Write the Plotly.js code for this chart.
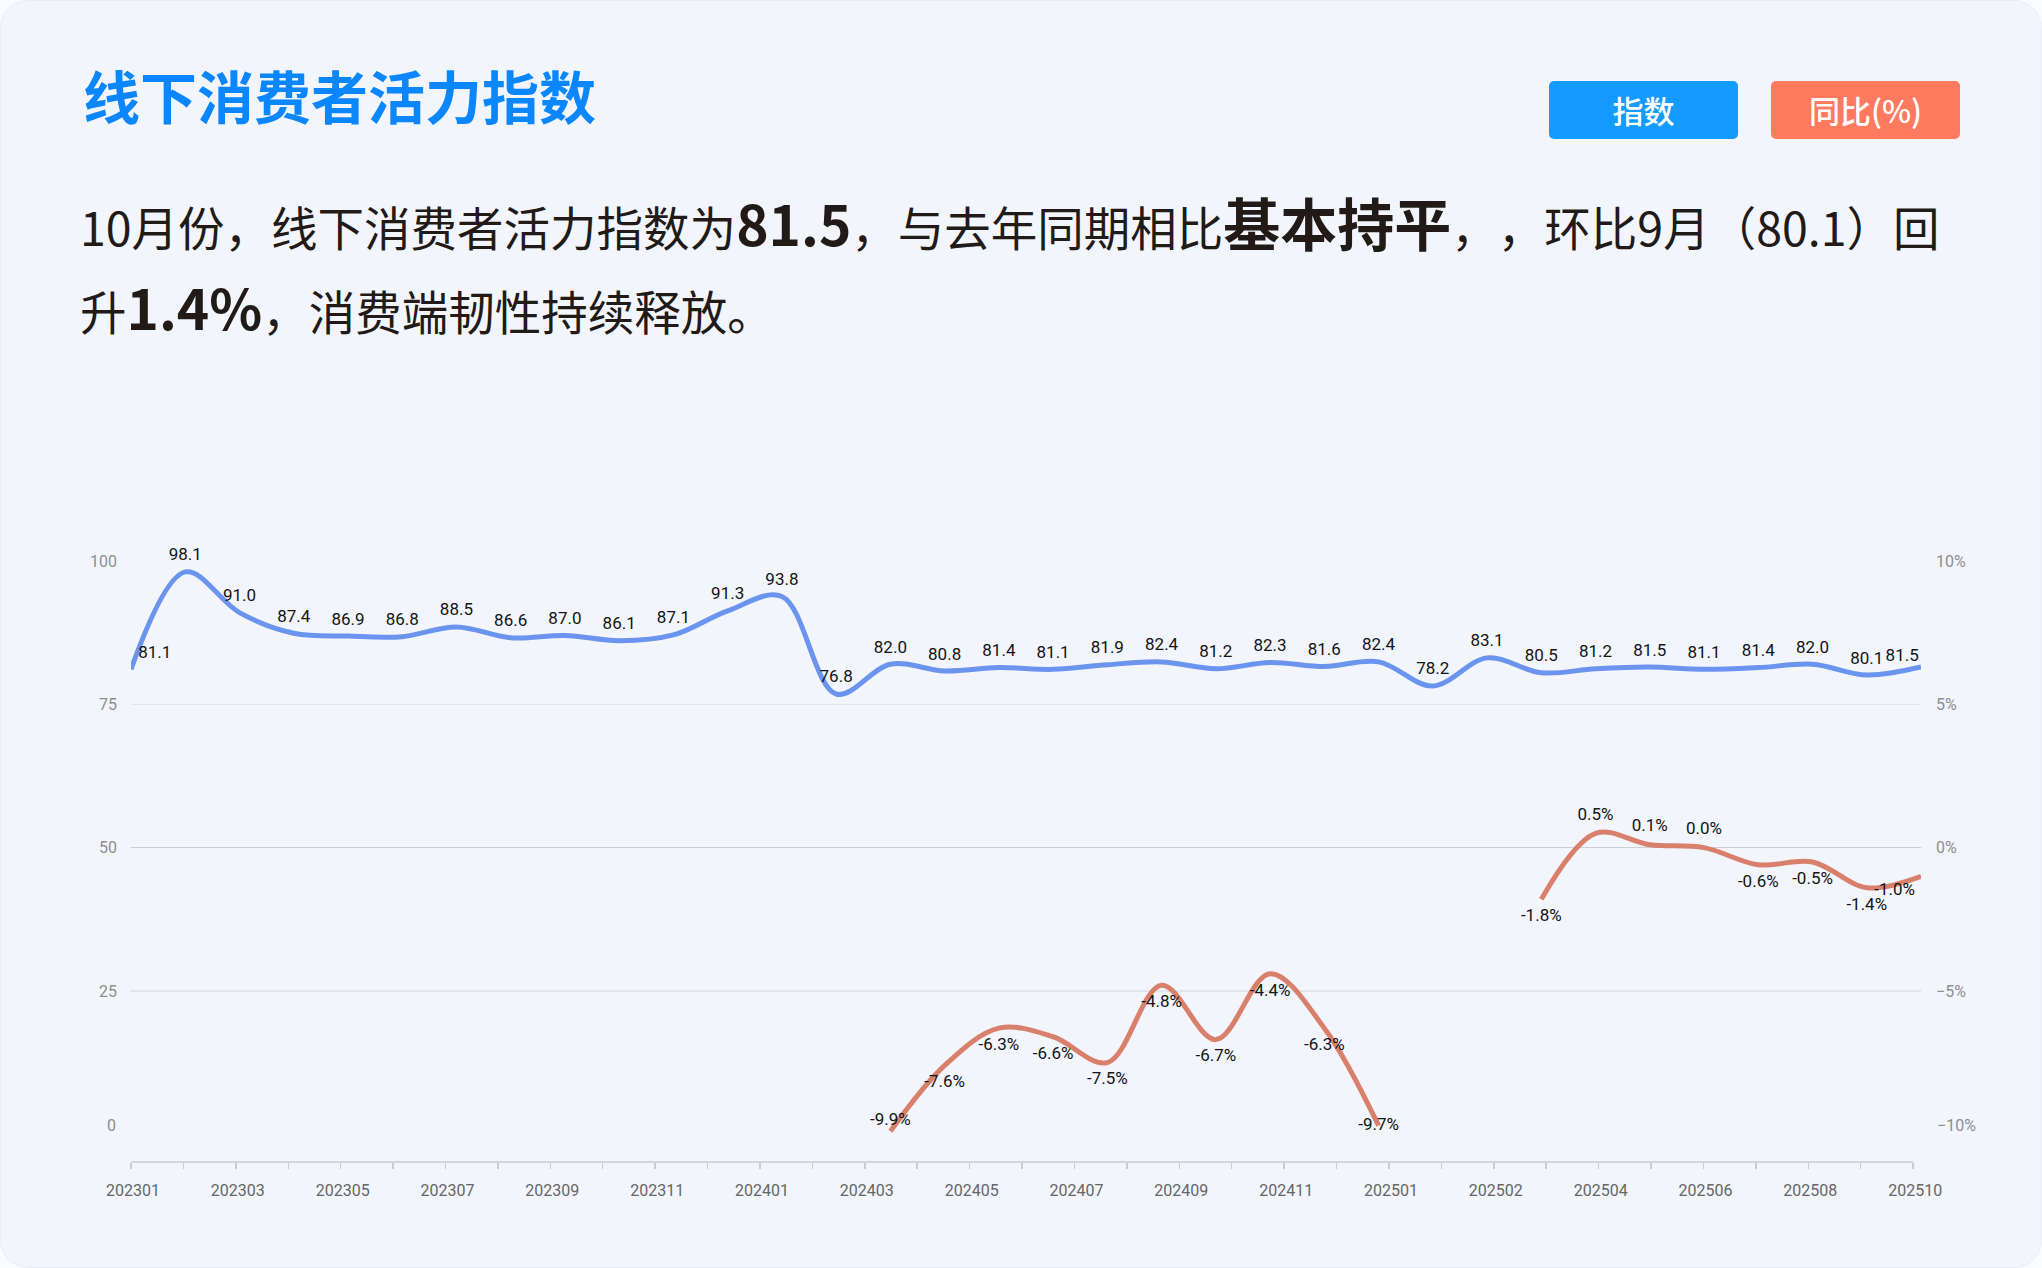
<!DOCTYPE html>
<html>
<head>
<meta charset="utf-8">
<script src="https://cdn.plot.ly/plotly-3.0.1.min.js"></script>
<style>
html,body{margin:0;padding:0;width:2042px;height:1268px;overflow:hidden;background:#FAFBFE;}
#card{position:absolute;left:0;top:0;width:2040px;height:1266px;border:1px solid #E9EDF5;border-radius:28px;background:#F2F5FC;}
#title{position:absolute;left:83px;top:66px;font-family:'Noto Sans CJK SC';font-weight:700;font-size:57px;line-height:1;color:#0A86FF;white-space:nowrap;text-spacing-trim:space-all;}
#sub{position:absolute;left:80px;top:184px;font-family:'Noto Sans CJK SC';font-weight:400;font-size:46.5px;line-height:84px;color:#211A17;white-space:nowrap;text-spacing-trim:space-all;}
#sub b{font-weight:700;font-size:57px;line-height:1;}
#sub b.num{font-size:55px;}
.btn{position:absolute;top:81px;width:189px;height:58px;border-radius:5px;color:#fff;font-family:'Noto Sans CJK SC';font-size:31px;font-weight:500;line-height:58px;text-align:center;}
#chart{position:absolute;left:0;top:0;width:2042px;height:1268px;}
</style>
</head>
<body>
<div id="card"></div>
<div id="title">线下消费者活力指数</div>
<div id="sub">10月份，线下消费者活力指数为<b class="num">81.5</b>，与去年同期相比<b>基本持平</b>，，环比9月（80.1）回<br>升<b class="num">1.4%</b>，消费端韧性持续释放。</div>
<div class="btn" style="left:1549px;background:#139BFF;">指数</div>
<div class="btn" style="left:1771px;background:#FF7A5F;">同比(%)</div>
<div id="chart"></div>
<script>
// ---- data ----
const months = ['202301','202302','202303','202304','202305','202306','202307','202308','202309','202310','202311','202312',
  '202401','202402','202403','202404','202405','202406','202407','202408','202409','202410','202411','202412',
  '202501','202502','202503','202504','202505','202506','202507','202508','202509','202510'];
const indexValues = [81.1,98.1,91.0,87.4,86.9,86.8,88.5,86.6,87.0,86.1,87.1,91.3,
  93.8,76.8,82.0,80.8,81.4,81.1,81.9,82.4,81.2,82.3,81.6,82.4,
  78.2,83.1,80.5,81.2,81.5,81.1,81.4,82.0,80.1,81.5];
const yoyValues = [null,null,null,null,null,null,null,null,null,null,null,null,
  null,null,-9.9,-7.6,-6.3,-6.6,-7.5,-4.8,-6.7,-4.4,-6.3,-9.7,
  null,null,-1.8,0.5,0.1,0.0,-0.6,-0.5,-1.4,-1.0];
const axisLabels = ['202301','202303','202305','202307','202309','202311','202401','202403','202405',
  '202407','202409','202411','202501','202502','202504','202506','202508','202510'];
const leftTicks = [25,50,75,100];
const rightTicks = [-5,0,5,10];

// ---- label placement ----
const blueTextPos = indexValues.map((v,i)=> i===0 ? 'top right' : (i===indexValues.length-1 ? 'top left' : 'top center'));
const blueMarkerSize = indexValues.map((v,i)=> i===indexValues.length-1 ? 2 : 10);
const redTextPos = yoyValues.map((v,i)=>{
  if (v===null) return 'top center';
  if (i===yoyValues.length-1) return 'bottom left';
  if (v <= -9.8) return 'top center';
  if (v <= -9.5) return 'middle center';
  return v >= 0 ? 'top center' : 'bottom center';
});
const redMarkerSize = yoyValues.map((v,i) => (v!==null && v <= -9.5) ? 1 : (i===yoyValues.length-1 ? 8 : 13));

const lblFont = {family:'Roboto, "Noto Sans", sans-serif', size:17, color:'#141414'};
const tickFont = {family:'Roboto, "Noto Sans", sans-serif', size:16, color:'#8E8E8E'};

const traces = [
  {x:months, y:indexValues, xaxis:'x2', yaxis:'y', type:'scatter', mode:'lines+markers+text',
   line:{color:'#6B94EE', width:5, shape:'spline', smoothing:1},
   marker:{size:blueMarkerSize, color:'#6B94EE', opacity:0},
   text:indexValues.map(v=>v.toFixed(1)), textposition:blueTextPos, textfont:lblFont, cliponaxis:false, hoverinfo:'skip'},
  {x:months, y:yoyValues, xaxis:'x2', yaxis:'y2', type:'scatter', mode:'lines+markers+text',
   line:{color:'#D9806C', width:5, shape:'spline', smoothing:1}, connectgaps:false,
   marker:{size:redMarkerSize, color:'#D9806C', opacity:0},
   text:yoyValues.map(v=> v===null ? '' : v.toFixed(1)+'%'), textposition:redTextPos, textfont:lblFont, cliponaxis:false, hoverinfo:'skip'}
];

const layout = {
  width:2042, height:1268,
  margin:{l:131, r:121, t:561, b:106, pad:0},
  paper_bgcolor:'rgba(0,0,0,0)', plot_bgcolor:'rgba(0,0,0,0)',
  showlegend:false, hovermode:false,
  xaxis:{type:'linear', range:[0,34.15], tickmode:'array',
    tickvals:axisLabels.map((_,i)=>i*2), ticktext:axisLabels,
    ticks:'outside', ticklen:6, tickwidth:1.5, tickcolor:'#C9CBD0',
    minor:{tickmode:'linear', tick0:0, dtick:1, ticks:'outside', ticklen:6, tickwidth:1.5, tickcolor:'#C9CBD0', showgrid:false},
    showgrid:false, zeroline:false, showline:false,
    tickfont:{family:'Roboto, "Noto Sans", sans-serif', size:16, color:'#666666'}, ticklabelstandoff:8, ticklabelshift:2, fixedrange:true},
  xaxis2:{type:'category', overlaying:'x', anchor:'y', range:[0,33], visible:false,
    categoryorder:'array', categoryarray:months, fixedrange:true},
  yaxis:{range:[-4.85,100], tickmode:'array', tickvals:leftTicks, ticks:'', showgrid:true,
    gridcolor:'#E2E5EB', gridwidth:1.5, zeroline:false, showline:false,
    tickfont:tickFont, ticklabelstandoff:13, fixedrange:true},
  yaxis2:{range:[-10.97,10], overlaying:'y', side:'right', anchor:'x', tickmode:'array', tickvals:rightTicks,
    ticktext:rightTicks.map(v => (v<0 ? '\u2212' : '') + Math.abs(v) + '%'),
    ticks:'', showgrid:false, zeroline:true, zerolinecolor:'#CDCFD4', zerolinewidth:1.5,
    showline:false, tickfont:tickFont, ticklabelstandoff:14, fixedrange:true},
  shapes:[{type:'line', xref:'x', yref:'paper', x0:0, x1:axisLabels.length*2-2, y0:0, y1:0,
    line:{color:'#C9CBD0', width:1.5}, layer:'above'}],
  annotations:[
    {text:'0', xref:'paper', x:0, xanchor:'right', xshift:-13, yref:'y', y:0, yanchor:'middle', yshift:9,
     showarrow:false, font:tickFont},
    {text:'\u221210%', xref:'paper', x:1, xanchor:'left', xshift:14, yref:'y2', y:-10, yanchor:'middle', yshift:9,
     showarrow:false, font:tickFont}
  ]
};

Plotly.newPlot('chart', traces, layout, {staticPlot:true, displayModeBar:false});
</script>
</body>
</html>
